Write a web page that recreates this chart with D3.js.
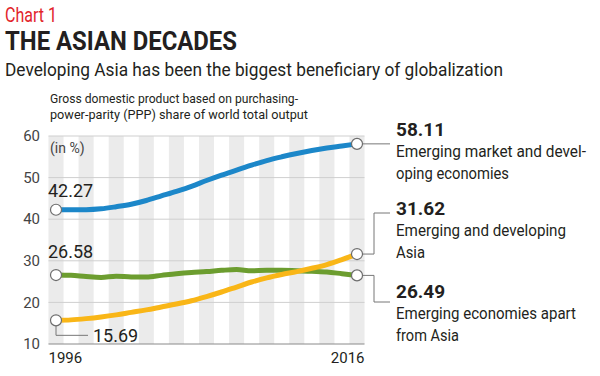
<!DOCTYPE html>
<html lang="en">
<head>
<meta charset="UTF-8">
<script src="https://d3js.org/d3.v7.min.js"></script>
<style>
  body { margin: 0; background: #fff; }
  svg text { font-family: "Roboto", "Liberation Sans", sans-serif; fill: #231f20; }
</style>
</head>
<body>
<svg id="chart"></svg>
<script>

const years = d3.range(1996, 2017)
const emergingAll = [42.27, 42.3, 42.3, 42.5, 43.0, 43.6, 44.5, 45.6, 46.7, 47.9, 49.3,
    50.6, 51.8, 53.0, 54.1, 55.0, 55.8, 56.5, 57.1, 57.6, 58.11]
const developingAsia = [15.69, 15.8, 16.1, 16.5, 17.0, 17.6, 18.2, 18.9, 19.6, 20.4, 21.4,
    22.5, 23.7, 24.9, 25.9, 26.7, 27.4, 28.2, 29.1, 30.3, 31.62]
const apartAsia = [26.58, 26.5, 26.2, 26.0, 26.3, 26.1, 26.1, 26.5, 26.9, 27.2, 27.4,
    27.7, 27.9, 27.6, 27.7, 27.7, 27.6, 27.5, 27.3, 26.9, 26.49]
const yTicks = [10, 20, 30, 40, 50, 60]

const W = 600, H = 376

// widths of the condensed type in the original
const fit = {
    'Chart 1': 52,
    'THE ASIAN DECADES': 232,
    'Developing Asia has been the biggest beneficiary of globalization': 498,
    'Gross domestic product based on purchasing-': 248,
    'power-parity (PPP) share of world total output': 258,
    'Emerging market and devel-': 190,
    'oping economies': 113,
    'Emerging and developing': 170,
    'Asia': 29,
    'Emerging economies apart': 180,
    'from Asia': 63
}
const squeeze = t => t.each(function(d) {
    const s = d3.select(this), txt = s.text()
    if (fit[txt]) s.attr('textLength', fit[txt]).attr('lengthAdjust', 'spacingAndGlyphs')
})

let svg = d3.select('#chart')
    .attr('width', W)
    .attr('height', H)

let x = d3.scaleLinear()
    .domain([1996, 2016])
    .range([56, 357])

let y = d3.scaleLinear()
    .domain([10, 60])
    .range([344, 136])

const step = x(1997) - x(1996)

// header
svg.append('text')
    .attr('x', 5).attr('y', 22)
    .style('font-size', '20px')
    .style('fill', '#e2242b')
    .text('Chart 1')
    .call(squeeze)
svg.append('text')
    .attr('x', 5).attr('y', 50)
    .style('font-size', '25px')
    .style('font-weight', 'bold')
    .text('THE ASIAN DECADES')
    .call(squeeze)
svg.append('text')
    .attr('x', 5).attr('y', 76)
    .style('font-size', '19px')
    .text('Developing Asia has been the biggest beneficiary of globalization')
    .call(squeeze)
svg.append('text')
    .attr('x', 50).attr('y', 103)
    .style('font-size', '13.5px')
    .text('Gross domestic product based on purchasing-')
    .call(squeeze)
svg.append('text')
    .attr('x', 50).attr('y', 119)
    .style('font-size', '13.5px')
    .text('power-parity (PPP) share of world total output')
    .call(squeeze)

// stripes
svg.append('g')
    .selectAll('rect')
    .data(years.filter((d, i) => i % 2 == 0))
    .join('rect')
    .attr('x', d => x(d) - step / 2)
    .attr('y', y(60))
    .attr('width', step)
    .attr('height', y(10) - y(60))
    .attr('fill', '#ebebeb')

// gridlines
svg.append('g')
    .selectAll('line')
    .data(yTicks)
    .join('line')
    .attr('x1', x(1996) - step / 2)
    .attr('x2', x(2016) + step / 2)
    .attr('y1', d => y(d))
    .attr('y2', d => y(d))
    .attr('stroke', d => d == 10 ? '#8a8a8a' : '#cfcfcf')
    .attr('stroke-width', 1)

// y labels
svg.append('g')
    .selectAll('text')
    .data(yTicks)
    .join('text')
    .attr('x', 40)
    .attr('y', d => y(d))
    .attr('dy', '0.35em')
    .attr('text-anchor', 'end')
    .style('font-size', '15px')
    .style('fill', '#444')
    .text(d => d)

svg.append('text')
    .attr('x', 50).attr('y', 153)
    .style('font-size', '14px')
    .style('fill', '#444')
    .text('(in %)')

// x labels
svg.append('text')
    .attr('x', x(1996) - step / 2).attr('y', 363)
    .style('font-size', '15px')
    .text('1996')
svg.append('text')
    .attr('x', x(2016) + step / 2).attr('y', 363)
    .attr('text-anchor', 'end')
    .style('font-size', '15px')
    .text('2016')

// connectors
const conn = svg.append('g')
    .attr('fill', 'none')
    .attr('stroke', '#777')
    .attr('stroke-width', 1)
const xe = x(2016)
conn.append('path')
    .attr('d', `M${x(1996)},${y(15.69)}V${y(15.69) + 15}H${x(1996) + 32}`)
conn.append('path')
    .attr('d', `M${xe},${y(58.11)}H${xe + 33}`)
conn.append('path')
    .attr('d', `M${xe},${y(31.62)}H${xe + 17}V${213}H${xe + 33}`)
conn.append('path')
    .attr('d', `M${xe},${y(26.49)}H${xe + 17}V${302}H${xe + 33}`)

// lines
const series = [
    {name: 'all', values: emergingAll, color: '#1c87c9'},
    {name: 'apart', values: apartAsia, color: '#6c9d2f'},
    {name: 'asia', values: developingAsia, color: '#f9b617'}
]

let line = d3.line()
    .x((d, i) => x(years[i]))
    .y(d => y(d))
    .curve(d3.curveMonotoneX)

svg.append('g')
    .selectAll('path')
    .data(series)
    .join('path')
    .attr('d', d => line(d.values))
    .attr('fill', 'none')
    .attr('stroke', d => d.color)
    .attr('stroke-width', 5)
    .attr('stroke-linecap', 'round')

// end circles
let ends = []
series.forEach(s => {
    ends.push({year: 1996, v: s.values[0]})
    ends.push({year: 2016, v: s.values[s.values.length - 1]})
})
svg.append('g')
    .selectAll('circle')
    .data(ends)
    .join('circle')
    .attr('cx', d => x(d.year))
    .attr('cy', d => y(d.v))
    .attr('r', 5.5)
    .attr('fill', '#fff')
    .attr('stroke', '#6d6d6d')
    .attr('stroke-width', 1.2)

// start labels
svg.append('text')
    .attr('x', 48).attr('y', 197)
    .style('font-size', '18px')
    .text('42.27')
svg.append('text')
    .attr('x', 48).attr('y', 258)
    .style('font-size', '18px')
    .text('26.58')
svg.append('text')
    .attr('x', 93).attr('y', 342)
    .style('font-size', '18px')
    .text('15.69')

// right labels
const rightLabels = [
    {value: '58.11', lines: ['Emerging market and devel-', 'oping economies'], y: 136},
    {value: '31.62', lines: ['Emerging and developing', 'Asia'], y: 215},
    {value: '26.49', lines: ['Emerging economies apart', 'from Asia'], y: 298}
]
let rl = svg.append('g')
    .selectAll('g')
    .data(rightLabels)
    .join('g')
    .attr('transform', d => `translate(396,${d.y})`)
rl.append('text')
    .style('font-size', '19px')
    .style('font-weight', 'bold')
    .text(d => d.value)
rl.selectAll('.desc')
    .data(d => d.lines)
    .join('text')
    .attr('class', 'desc')
    .attr('y', (d, i) => 21 + i * 21.5)
    .style('font-size', '16px')
    .text(d => d)
    .call(squeeze)

</script>
</body>
</html>
